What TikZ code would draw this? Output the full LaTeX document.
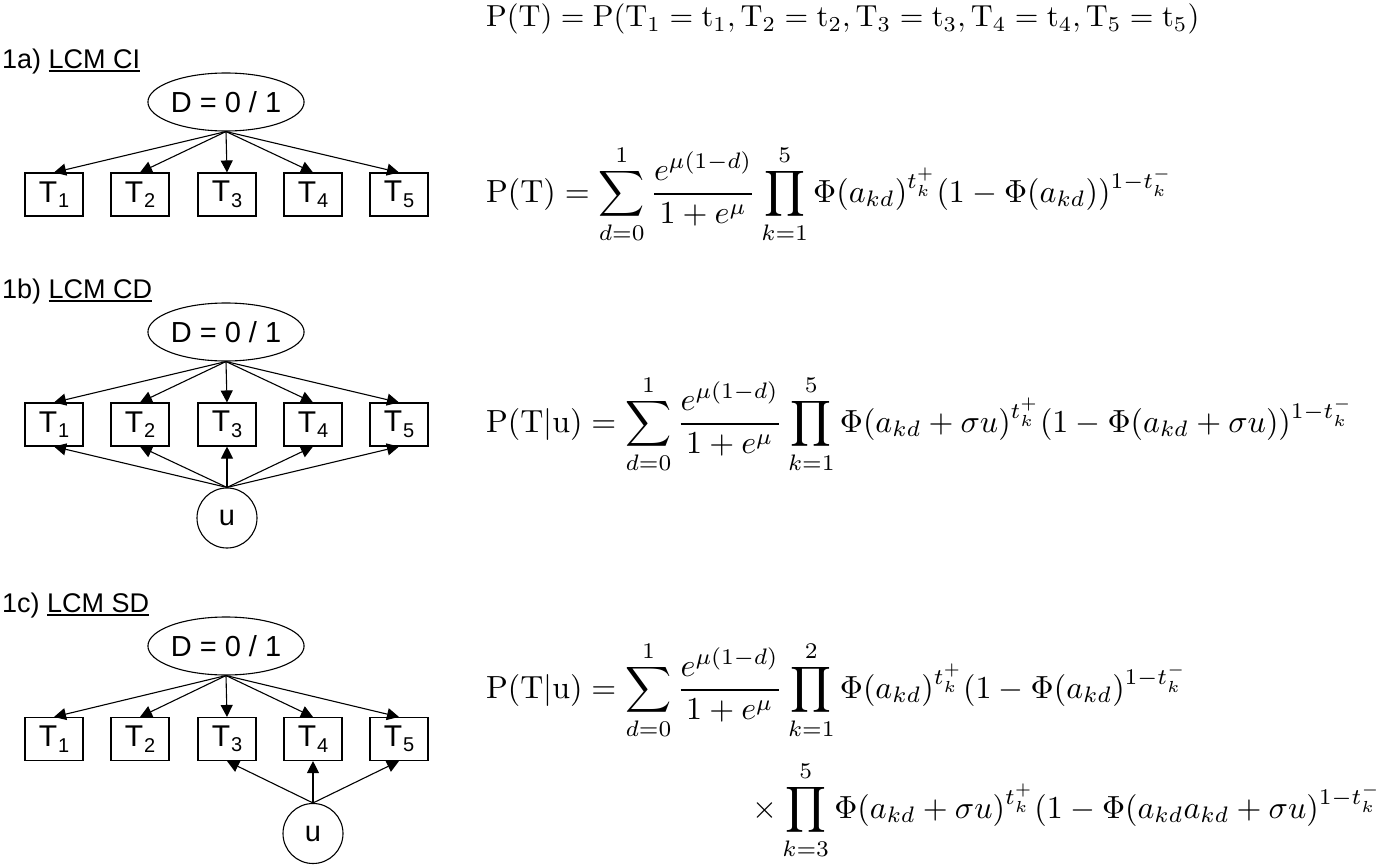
\documentclass[tikz,border=0pt]{standalone}
\usepackage{amsmath}
\usepackage{graphicx}
\usepackage[no-math]{fontspec}
\newfontfamily\arial{Liberation Sans}
\usetikzlibrary{shapes.geometric,arrows.meta}
\newcommand\ulab[1]{\setbox0\hbox{#1}\rlap{\rule[-3.5pt]{\wd0}{2pt}}\box0}
\newcommand\Tsub[1]{T\kern1pt\raisebox{-5.5pt}{\fontsize{20}{22}\selectfont #1}}
\newcommand\eqs[1]{\scalebox{3.2}{#1}}
\begin{document}
\begin{tikzpicture}[x=1pt,y=-1pt,
  lab/.style={font=\arial\fontsize{27}{31}\selectfont, anchor=base west, inner sep=0},
  dnode/.style={ellipse, draw, line width=1.1pt, minimum width=146, minimum height=58, inner sep=0, font=\arial\fontsize{29}{33}\selectfont},
  tbox/.style={draw, line width=1.1pt, minimum width=58, minimum height=43, inner sep=0, font=\arial\fontsize{30}{34}\selectfont},
  unode/.style={circle, draw, line width=1.1pt, minimum size=60, inner sep=0, font=\arial\fontsize{29}{33}\selectfont},
  arr/.style={-{Triangle[length=12pt,width=12pt]}, line width=1.1pt},
  eq/.style={anchor=base west, inner sep=0}]
\useasboundingbox (0,0) rectangle (1400,867);

% ---------- 1a ----------
\node[lab] (la) at (2,68) {1a) \ulab{LCM CI}};
\node[dnode] (Da) at (226,102) {D = 0 / 1};
\foreach \i/\x in {1/54,2/140,3/227,4/313,5/399}{
  \node[tbox] (Ta\i) at (\x,194.5) {\Tsub{\i}};
  \draw[arr] (Da.south) -- (Ta\i.north);
}

% ---------- 1b ----------
\node[lab] (lb) at (2,298) {1b) \ulab{LCM CD}};
\node[dnode] (Db) at (226,332) {D = 0 / 1};
\node[unode] (ub) at (227,518) {u};
\foreach \i/\x in {1/54,2/140,3/227,4/313,5/399}{
  \node[tbox] (Tb\i) at (\x,424.5) {\Tsub{\i}};
  \draw[arr] (Db.south) -- (Tb\i.north);
  \draw[arr] (ub.north) -- (Tb\i.south);
}

% ---------- 1c ----------
\node[lab] (lc) at (2,612) {1c) \ulab{LCM SD}};
\node[dnode] (Dc) at (226,646) {D = 0 / 1};
\node[unode] (uc) at (313,833.5) {u};
\foreach \i/\x in {1/54,2/140,3/227,4/313,5/399}{
  \node[tbox] (Tc\i) at (\x,739) {\Tsub{\i}};
  \draw[arr] (Dc.south) -- (Tc\i.north);
}
\foreach \i in {3,4,5}{
  \draw[arr] (uc.north) -- (Tc\i.south);
}

% ---------- equations ----------
\node[eq] (e0) at (486,27) {\scalebox{3.04}{$\mathrm{P(T) = P(T_1 = t_1, T_2 = t_2, T_3 = t_3, T_4 = t_4, T_5 = t_5)}$}};

\node[eq] (e1) at (486,202) {\eqs{$\displaystyle \mathrm{P(T)} = \sum_{d=0}^{1} \frac{e^{\mu(1-d)}}{1+e^{\mu}} \prod_{k=1}^{5} \Phi(a_{kd})^{t_k^+}(1-\Phi(a_{kd}))^{1-t_k^-}$}};

\node[eq] (e2) at (486,432) {\eqs{$\displaystyle \mathrm{P(T|u)} = \sum_{d=0}^{1} \frac{e^{\mu(1-d)}}{1+e^{\mu}} \prod_{k=1}^{5} \Phi(a_{kd}+\sigma u)^{t_k^+}(1-\Phi(a_{kd}+\sigma u))^{1-t_k^-}$}};

\node[eq] (e3) at (486,698) {\eqs{$\displaystyle \mathrm{P(T|u)} = \sum_{d=0}^{1} \frac{e^{\mu(1-d)}}{1+e^{\mu}} \prod_{k=1}^{2} \Phi(a_{kd})^{t_k^+}(1-\Phi(a_{kd})^{1-t_k^-}$}};

\node[eq] (e4) at (752,818) {\eqs{$\displaystyle \times \prod_{k=3}^{5} \Phi(a_{kd}+\sigma u)^{t_k^+}(1-\Phi(a_{kd}a_{kd}+\sigma u)^{1-t_k^-}$}};
\end{tikzpicture}
\end{document}
